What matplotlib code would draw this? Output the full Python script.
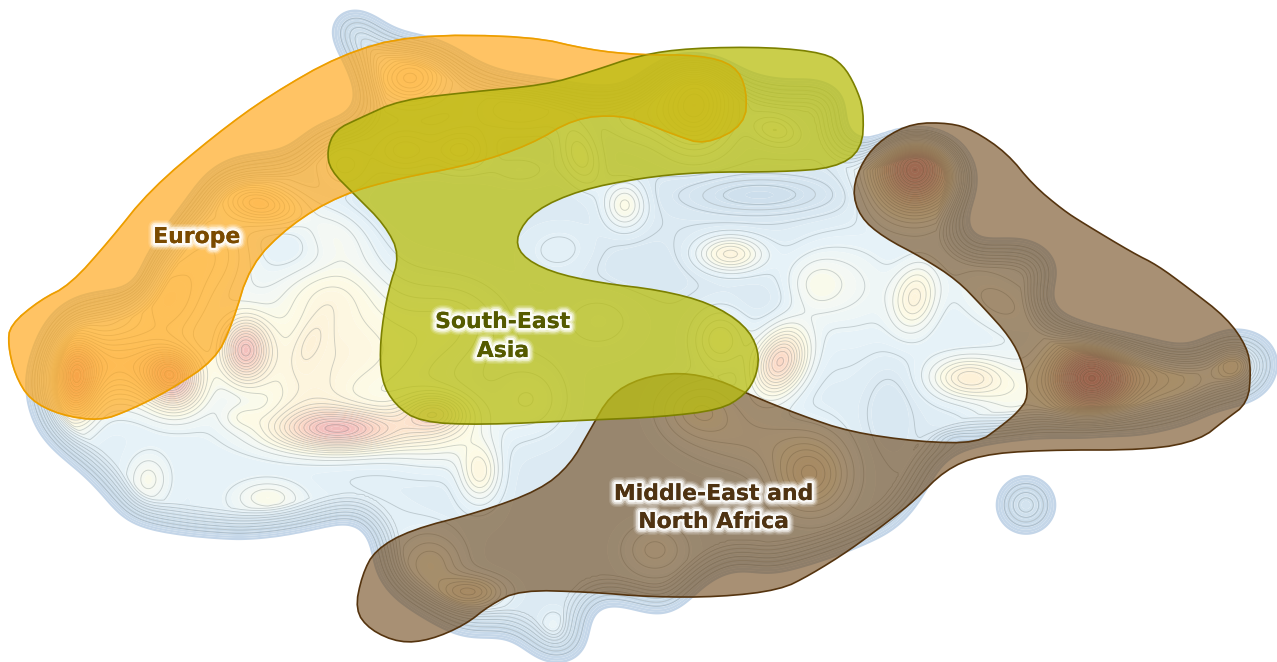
import math
import numpy as np
import matplotlib
matplotlib.use("Agg")
import matplotlib.pyplot as plt
import matplotlib.patheffects as pe
from matplotlib.path import Path
from matplotlib.colors import LinearSegmentedColormap, Normalize

# outline of the density surface (picture coordinates)
density_x = [341,325,335,354,376,391,416,438,463,488,563,613,634,663,691,724,749,781,820,841,849,845,859,880,917,950,973,983,962,973,1000,1030,1053,1063,1047,1050,1083,1150,1187,1203,1233,1270,1284,1270,1247,1210,1197,1163,1133,1040,985,950,935,918,893,870,850,807,763,740,707,690,677,657,620,593,592,590,582,557,545,525,510,480,453,413,390,373,372,367,353,317,260,200,133,113,90,50,33,25,23,40,67,97,133,135,143,167,187,203,227,253,287,307,333,360,352]
density_y = [58,33,10,5,13,28,33,37,50,68,80,88,77,55,50,55,73,79,77,87,100,133,145,132,123,130,150,183,230,240,237,236,250,273,300,307,322,337,347,337,324,334,363,395,406,413,423,432,438,438,445,455,475,508,533,543,552,567,578,567,583,601,613,618,606,605,612,642,661,666,665,652,636,641,636,613,597,573,553,530,521,530,541,539,528,510,480,450,427,400,373,323,297,290,287,283,257,223,197,173,157,152,150,128,117,110,83]
island_x, island_y, island_r = 1026, 505, 33

# density hills: centre, spread, height, rotation
hill_x = [340,340,245,780,730,967,625,915,480,148,268,240,310,435,175,335,440,530,840,815,330,310,
          75,170,115,165,210,260,410,405,460,345,695,580,775,520,640,
          915,1090,1150,1232,470,430,810,750,655,700,1000,1010,553,720,600,455,520,
          760,640,890,955,770,560,200,900,300]
hill_y = [430,350,350,362,254,378,205,297,473,480,497,417,342,412,390,235,430,400,280,285,290,400,
          380,370,365,300,250,203,78,150,150,165,105,155,130,110,115,
          170,378,380,365,592,565,475,440,550,410,300,400,625,340,320,320,170,
          195,270,400,440,300,250,450,340,520]
hill_sx = [46,85,16,17,22,24,14,15,14,14,22,14,10,22,20,30,35,25,38,18,35,30,
           15,18,42,30,32,26,24,20,18,18,24,13,16,35,25,
           28,27,55,12,22,22,26,40,22,26,40,25,9,18,30,30,25,
           50,45,20,14,22,25,120,90,110]
hill_sy = [15,45,21,24,12,14,16,23,20,17,11,9,22,13,18,20,25,25,32,18,22,22,
           28,15,26,30,32,14,18,14,14,16,28,22,10,16,18,
           28,25,20,12,11,20,26,22,18,20,22,30,11,20,25,25,12,
           13,20,35,6,14,18,45,60,25]
hill_amp = [22,10,19,19,11,11,8,9,9,5,5,3,3,12,13,5,7,4,4,3,5,4,
            24,15,14,10,8,15,14,7,8,5,16,7,6,6,4,
            33,34,9,8,12,7,12,4,5,7,4,5,3,7,2,3,2,
            -5,-1,-2,-4,-1,2,2,2,2]
hill_rot = [0,0,0,25,0,0,0,12,0,0,0,0,25,0,0,30,0,0,0,0,0,0,
            0,0,0,-40,-45,10,0,0,0,0,0,-20,15,0,0,
            0,0,0,0,0,0,0,0,0,0,30,0,0,0,0,0,0,
            0,0,0,0,0,0,0,0,0]

# regions
europe_x = [10,40,70,110,150,215,270,340,410,530,590,640,700,735,747,745,705,675,650,620,575,530,470,400,340,290,250,232,215,170,130,100,60,30,15,8]
europe_y = [325,300,285,240,190,135,95,55,35,36,50,55,55,65,90,125,145,135,125,115,118,145,165,178,195,225,265,325,360,390,410,421,415,400,375,345]
asia_x = [327,335,360,400,470,545,590,640,690,770,825,843,855,864,862,835,780,700,640,580,535,516,520,550,600,660,710,745,759,757,745,720,660,590,480,420,395,381,380,388,400,385,355,330]
asia_y = [150,130,118,100,92,85,72,55,48,47,53,65,85,110,150,168,172,172,178,190,210,235,255,272,283,290,303,325,350,375,395,410,417,420,425,422,405,380,340,290,255,225,195,170]
mena_x = [913,950,973,1007,1033,1063,1083,1133,1157,1187,1227,1247,1251,1248,1225,1200,1150,1040,980,945,915,890,850,810,780,720,650,590,520,490,465,430,400,370,355,362,375,410,480,540,570,590,610,640,680,720,750,800,850,920,978,1000,1017,1029,1023,1010,983,957,923,883,860,852,863,883]
mena_y = [123,123,130,153,185,210,223,253,265,287,318,347,370,403,420,440,450,450,455,470,500,520,550,575,590,597,597,592,590,605,625,640,643,630,610,575,550,530,512,490,465,430,395,378,372,380,395,415,432,442,443,427,413,397,363,337,307,280,258,237,217,190,160,138]

levels_z = [0,5,10,12,15,18,24,30,36,44,60]
levels_c = ["#c3d5e8","#cddfec","#dbe9f3","#e5f2f8","#f3f8f5","#fdfbe6","#fdeed5","#fcd8c6","#f2bcbc","#e8a4b0","#dd8a98"]


def smooth(xs, ys, n=3):
    p = np.column_stack([xs, ys]).astype(float)
    for _ in range(n):
        q = np.roll(p, -1, axis=0)
        p = np.column_stack([0.75*p + 0.25*q, 0.25*p + 0.75*q]).reshape(-1, 2)
    return p


def surface():
    step = 2.0
    sigma = 13.0
    gx = np.arange(-80, 1360, step)
    gy = np.arange(-80, 745, step)
    X, Y = np.meshgrid(gx, gy)
    pts = np.column_stack([X.ravel(), Y.ravel()])
    mask = Path(smooth(density_x, density_y, 2)).contains_points(pts).reshape(X.shape).astype(float)
    mask[np.hypot(X-island_x, Y-island_y) < island_r] = 1.0
    sig = sigma / step
    fy = np.fft.fftfreq(X.shape[0])
    fx = np.fft.rfftfreq(X.shape[1])
    ky, kx = np.meshgrid(fy, fx, indexing="ij")
    kern = np.exp(-2*(np.pi*sig)**2*(kx**2+ky**2))
    b = np.fft.irfft2(np.fft.rfft2(mask)*kern, s=mask.shape)
    # blurred coverage -> signed distance from the outline
    d_tab = np.linspace(-3.0, 3.0, 301)
    b_tab = np.array([0.5*(1+math.erf(t/math.sqrt(2))) for t in d_tab])
    d = np.interp(b, b_tab, d_tab) * sigma
    ramp = np.clip(d/32.0, -1, 1)
    hills = np.zeros_like(X)
    for x0, y0, sx, sy, a, r in zip(hill_x, hill_y, hill_sx, hill_sy, hill_amp, hill_rot):
        t = np.radians(r)
        dx, dy = X-x0, Y-y0
        u = dx*np.cos(t)+dy*np.sin(t)
        v = -dx*np.sin(t)+dy*np.cos(t)
        hills += a*np.exp(-0.5*((u/sx)**2+(v/sy)**2))
    z = 10*ramp + hills*np.clip(ramp, 0, 1)
    return X, Y, z


fig = plt.figure(figsize=(12.77, 6.62), dpi=100, facecolor="white")
ax = fig.add_axes([0, 0, 1, 1])
ax.set_xlim(0, 1277)
ax.set_ylim(662, 0)
ax.axis("off")

X, Y, Z = surface()
cmap = LinearSegmentedColormap.from_list("dens", [(v/60, c) for v, c in zip(levels_z, levels_c)])
lv_fill = np.arange(0, 62, 0.75)
lv_line = np.concatenate([np.arange(2.5, 10, 1.25), np.arange(10, 62, 1.5)])
ax.contourf(X, Y, Z, levels=lv_fill, cmap=cmap, norm=Normalize(0, 60), antialiased=True, zorder=1)
ax.contour(X, Y, Z, levels=lv_line, colors="#6f7c80", linewidths=0.65, alpha=0.33, zorder=2)

eu = smooth(europe_x, europe_y, 2)
ax.fill(eu[:, 0], eu[:, 1], facecolor=(1.0, 0.643, 0.067, 0.65), edgecolor="#ff9d00", linewidth=1.2, zorder=3)
me = smooth(mena_x, mena_y, 2)
ax.fill(me[:, 0], me[:, 1], facecolor=(0.38, 0.208, 0.008, 0.55), edgecolor="#55340f", linewidth=1.2, zorder=4)
az = smooth(asia_x, asia_y, 2)
ax.fill(az[:, 0], az[:, 1], facecolor=(0.725, 0.745, 0.06, 0.75), edgecolor="#7c8000", linewidth=1.2, zorder=5)
ax.plot(np.r_[eu[:, 0], eu[0, 0]], np.r_[eu[:, 1], eu[0, 1]], color="#e0a000", lw=1.0, alpha=0.7, zorder=5.5)

glow = [pe.withStroke(linewidth=10, foreground=(1, 1, 1, 0.14)),
        pe.withStroke(linewidth=8, foreground=(1, 1, 1, 0.25)),
        pe.withStroke(linewidth=6, foreground=(1, 1, 1, 0.5)),
        pe.withStroke(linewidth=3.5, foreground=(1, 1, 1, 0.85)),
        pe.Normal()]
for txt, x, y, col in [("Europe", 197, 237, "#7a4a00"),
                       ("South-East", 503, 322, "#555a00"),
                       ("Asia", 503, 351, "#555a00"),
                       ("Middle-East and", 714, 494, "#4f3312"),
                       ("North Africa", 714, 522, "#4f3312")]:
    ax.text(x, y, txt, ha="center", va="center", fontsize=15.8, fontweight="bold",
            family="DejaVu Sans", color=col, path_effects=glow, zorder=6)

fig.savefig("out.png", dpi=100, facecolor="white")
